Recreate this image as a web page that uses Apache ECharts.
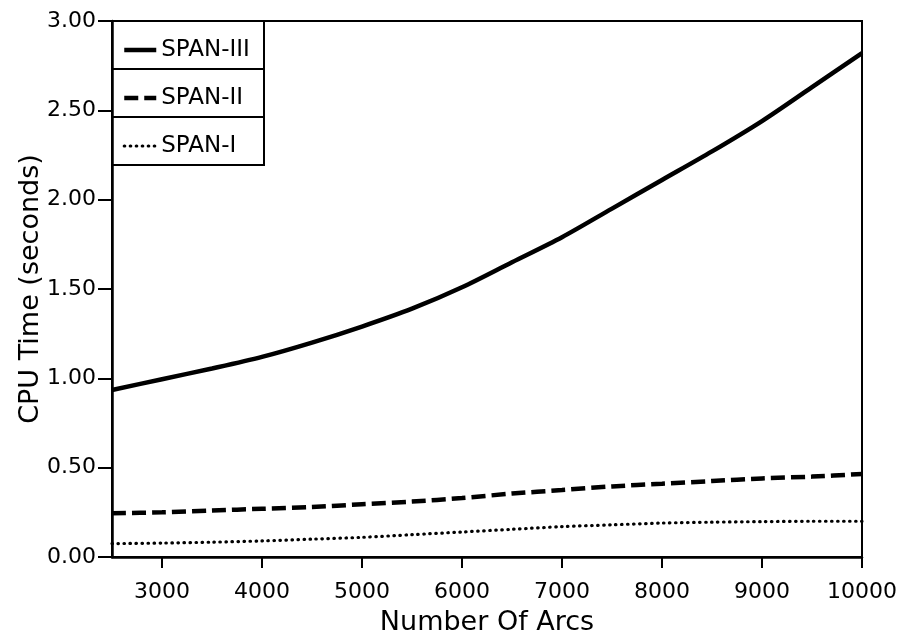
<!DOCTYPE html>
<html>
<head>
<meta charset="utf-8">
<script src="https://cdn.jsdelivr.net/npm/echarts@6/dist/echarts.min.js"></script>
<style>html,body{margin:0;padding:0;background:#fff}#c{width:904px;height:643px}</style>
</head>
<body>
<div id="c"></div>
<script>
const arcs = [2500, 3000, 3500, 4000, 4500, 5000, 5500, 6000, 6500, 7000, 7500, 8000, 8500, 9000, 9500, 10000];
const span3 = [0.935, 0.995, 1.055, 1.12, 1.20, 1.29, 1.39, 1.51, 1.65, 1.79, 1.95, 2.11, 2.27, 2.44, 2.63, 2.82];
const span2 = [0.245, 0.25, 0.26, 0.27, 0.28, 0.295, 0.31, 0.33, 0.355, 0.375, 0.395, 0.41, 0.425, 0.44, 0.45, 0.465];
const span1 = [0.075, 0.078, 0.083, 0.09, 0.10, 0.11, 0.125, 0.14, 0.155, 0.17, 0.18, 0.19, 0.195, 0.198, 0.2, 0.2];
const seriesNames = ['SPAN-III', 'SPAN-II', 'SPAN-I'];
const xTicks = [3000, 4000, 5000, 6000, 7000, 8000, 9000, 10000];
const xTitle = 'Number Of Arcs';
const yTitle = 'CPU Time (seconds)';

const FONT = 'DejaVu Sans';
const pair = (ys) => arcs.map((x, i) => [x, ys[i]]);
const styles = [
  {color: '#000', width: 4.5, type: 'solid'},
  {color: '#000', width: 4.5, type: [14, 6]},
  {color: '#000', width: 3.2, type: [0.5, 5.5], cap: 'round'}
];
const hidden = {color: 'rgba(0,0,0,0)', borderColor: 'rgba(0,0,0,0)', borderWidth: 0, opacity: 0};

const chart = echarts.init(document.getElementById('c'), null, {renderer: 'canvas'});
chart.setOption({
  animation: false,
  backgroundColor: '#fff',
  textStyle: {fontFamily: FONT, color: '#000'},
  grid: {left: 112, right: 42, top: 21, bottom: 86, show: true, borderColor: '#000', borderWidth: 2, backgroundColor: 'transparent'},
  legend: {
    orient: 'vertical', left: 117, top: 33,
    itemWidth: 32, itemHeight: 14, itemGap: 24,
    textStyle: {fontFamily: FONT, fontSize: 23, color: '#000', lineHeight: 24},
    itemStyle: hidden,
    data: seriesNames.map((n, i) => ({name: n, itemStyle: hidden, lineStyle: styles[i]})),
    selectedMode: false
  },
  graphic: [0, 1, 2].map(i => ({
    type: 'rect', z: 100, silent: true,
    shape: {x: 112, y: 21 + i * 48, width: 152, height: 48},
    style: {fill: 'none', stroke: '#000', lineWidth: 2}
  })),
  xAxis: {
    type: 'value', min: 2500, max: 10000, interval: 500,
    name: xTitle, nameLocation: 'middle', nameGap: 52, nameMoveOverlap: false,
    nameTextStyle: {fontFamily: FONT, fontSize: 27, color: '#000'},
    axisLine: {show: true, onZero: false, lineStyle: {color: '#000', width: 2.5}},
    axisTick: {show: true, length: 11, lineStyle: {color: '#000', width: 2}, customValues: xTicks},
    axisLabel: {fontFamily: FONT, fontSize: 22, color: '#000', margin: 24, customValues: xTicks,
      formatter: v => String(v)},
    splitLine: {show: false}
  },
  yAxis: {
    type: 'value', min: 0, max: 3, interval: 0.5,
    name: yTitle, nameLocation: 'middle', nameGap: 68, nameRotate: 90, nameMoveOverlap: false,
    nameTextStyle: {fontFamily: FONT, fontSize: 27, color: '#000'},
    axisLine: {show: true, onZero: false, lineStyle: {color: '#000', width: 2.5}},
    axisTick: {show: true, length: 14, lineStyle: {color: '#000', width: 2}},
    axisLabel: {fontFamily: FONT, fontSize: 22, color: '#000', margin: 16, formatter: v => v.toFixed(2)},
    splitLine: {show: false}
  },
  series: [span3, span2, span1].map((d, i) => ({
    name: seriesNames[i], type: 'line', data: pair(d), smooth: 0.3, symbol: 'none',
    lineStyle: styles[i], itemStyle: {color: '#000'}
  }))
});
</script>
</body>
</html>
